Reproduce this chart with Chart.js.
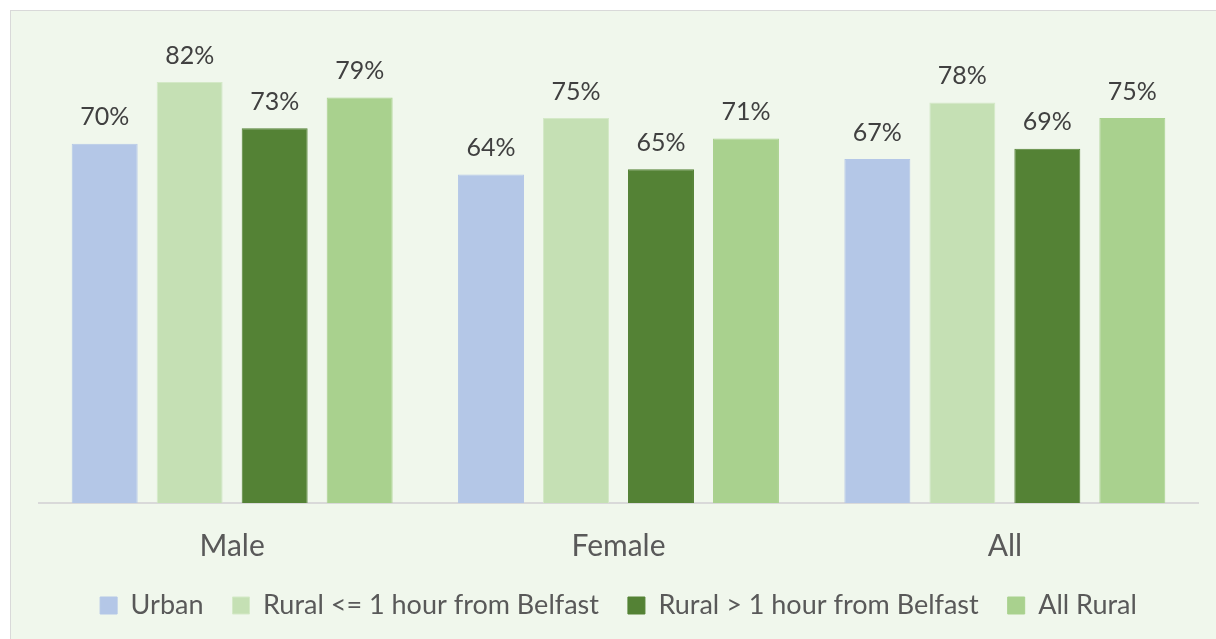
<!DOCTYPE html>
<html>
<head>
<meta charset="utf-8">
<script src="https://cdn.jsdelivr.net/npm/chart.js@4.4.0/dist/chart.umd.min.js"></script>
<style>
  html, body { margin: 0; padding: 0; background: #ffffff; }
  #frame {
    position: absolute; left: 10px; top: 10px;
    width: 1206px; height: 629px;
    border-top: 1px solid #d9d9d9; border-left: 1px solid #d9d9d9;
    background: #f0f7ec;
  }
  #chart { display: block; }
</style>
</head>
<body>
<div id="frame"><canvas id="chart" width="1205" height="628"></canvas></div>
<script>
// --- DATA ---
const categories = ['Male', 'Female', 'All'];
const seriesNames = ['Urban', 'Rural <= 1 hour from Belfast', 'Rural > 1 hour from Belfast', 'All Rural'];
const urban = [70, 64, 67];
const ruralNear = [82, 75, 78];
const ruralFar = [73, 65, 69];
const allRural = [79, 71, 75];

const colours = ['#b4c7e7', '#c5e0b4', '#548235', '#a9d18e'];
const borders = ['#b4c7e7', '#d4e9c7', '#548235', '#a9d18e'];
const FONT = 'Lato, "Open Sans", sans-serif';

// draws the "70%" labels above each bar
const valueLabels = {
    id: 'valueLabels',
    afterDatasetsDraw(chart) {
        const ctx = chart.ctx;
        ctx.save();
        ctx.font = '25px ' + FONT;
        ctx.fillStyle = '#404040';
        ctx.textAlign = 'center';
        ctx.textBaseline = 'bottom';
        chart.data.datasets.forEach((ds, i) => {
            chart.getDatasetMeta(i).data.forEach((bar, j) => {
                ctx.fillText(ds.data[j] + '%', bar.x, bar.y - 14);
            });
        });
        ctx.restore();
    }
};

const seriesData = [urban, ruralNear, ruralFar, allRural];

new Chart(document.getElementById('chart'), {
    type: 'bar',
    data: {
        labels: categories,
        datasets: seriesNames.map((name, i) => ({
            label: name,
            data: seriesData[i],
            backgroundColor: colours[i],
            borderColor: borders[i],
            borderWidth: 1,
            categoryPercentage: 0.88,
            barPercentage: 0.776
        }))
    },
    options: {
        responsive: false,
        animation: false,
        layout: { padding: { left: 28, right: 18, top: 30, bottom: 10 } },
        plugins: {
            legend: {
                position: 'bottom',
                labels: {
                    font: { family: FONT, size: 27 },
                    color: '#595959',
                    boxWidth: 17,
                    boxHeight: 17,
                    padding: 29
                }
            },
            tooltip: { enabled: false }
        },
        scales: {
            x: {
                grid: { display: false },
                border: { display: true, color: '#d9d9d9', width: 2 },
                ticks: { font: { family: FONT, size: 30 }, color: '#595959', padding: 17 },
                // pull the legend closer to the category labels
                afterFit(scale) { scale.height -= 18; }
            },
            y: {
                display: false,
                min: 0,
                max: 90
            }
        }
    },
    plugins: [valueLabels]
});
</script>
</body>
</html>
